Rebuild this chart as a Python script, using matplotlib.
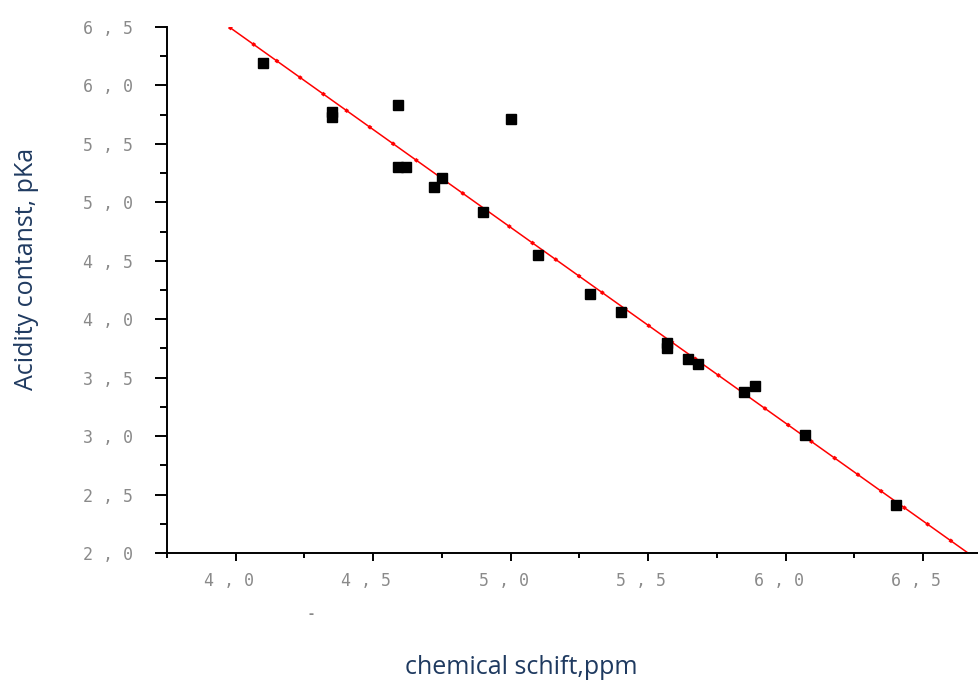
import matplotlib.pyplot as plt
import matplotlib.transforms as mtransforms
from matplotlib.ticker import MultipleLocator, FuncFormatter

# measured points (chemical shift, pKa)
shift = [4.10, 4.35, 4.35, 4.59, 4.59, 4.62, 4.75, 4.72, 4.90, 5.00,
         5.10, 5.29, 5.40, 5.57, 5.57, 5.645, 5.68, 5.85, 5.89, 6.07, 6.40]
pka = [6.19, 5.77, 5.73, 5.83, 5.30, 5.30, 5.21, 5.13, 4.92, 5.71,
       4.55, 4.22, 4.06, 3.80, 3.75, 3.66, 3.62, 3.38, 3.43, 3.01, 2.41]

# fitted line end points
fit_x = [3.976, 6.663]
fit_y = [6.5, 2.0]

plt.rcParams['font.family'] = ['Open Sans', 'DejaVu Sans']

fig = plt.figure(figsize=(9.79, 6.8), dpi=100)
ax = fig.add_axes([167 / 979, 1 - 553 / 680, 1 - 167 / 979, (553 - 27) / 680])

ax.plot(fit_x, fit_y, color='red', lw=1.1, zorder=2)
# small dots along the fit line
ax.plot(fit_x, fit_y, color='red', lw=2.6, dashes=(0.9, 7), zorder=2)
ax.plot(shift, pka, 's', color='black', ms=7.8, zorder=3)

ax.set_xlim(3.75, 6.703)
ax.set_ylim(2.0, 6.5)

for s in ['top', 'right']:
    ax.spines[s].set_visible(False)
for s in ['left', 'bottom']:
    ax.spines[s].set_linewidth(1.4)

ax.xaxis.set_major_locator(MultipleLocator(0.5))
ax.xaxis.set_minor_locator(MultipleLocator(0.25))
ax.yaxis.set_major_locator(MultipleLocator(0.5))
ax.yaxis.set_minor_locator(MultipleLocator(0.25))

fmt = FuncFormatter(lambda v, p: ('%.1f' % v).replace('.', ' , '))
ax.xaxis.set_major_formatter(fmt)
ax.yaxis.set_major_formatter(fmt)

ax.tick_params(axis='y', which='major', direction='out', length=8.5, width=1.4, pad=16)
ax.tick_params(axis='y', which='minor', direction='out', length=5, width=1.4)
ax.tick_params(axis='x', which='major', direction='out', length=5.8, width=1.4, pad=8)
ax.tick_params(axis='x', which='minor', direction='out', length=3.6, width=1.4)

shift_left = mtransforms.ScaledTranslation(-7 / 100, 0, fig.dpi_scale_trans)
for lab in ax.get_xticklabels():
    lab.set_transform(lab.get_transform() + shift_left)
for lab in ax.get_xticklabels() + ax.get_yticklabels():
    lab.set_fontfamily('DejaVu Sans Mono')
    lab.set_fontsize(12)
    lab.set_color('#8a8a8a')

fig.text(27 / 979, 1 - 269 / 680, 'Acidity contanst, pKa', rotation=90,
         ha='center', va='center', fontsize=18, color='#1f3a60')
fig.text(521 / 979, 1 - 667 / 680, 'chemical schift,ppm',
         ha='center', va='center', fontsize=18, color='#1f3a60')
fig.text(311 / 979, 1 - 614 / 680, '-', ha='center', va='center',
         fontsize=11, color='#888888', fontweight='bold')

fig.savefig('out.png', dpi=100)
